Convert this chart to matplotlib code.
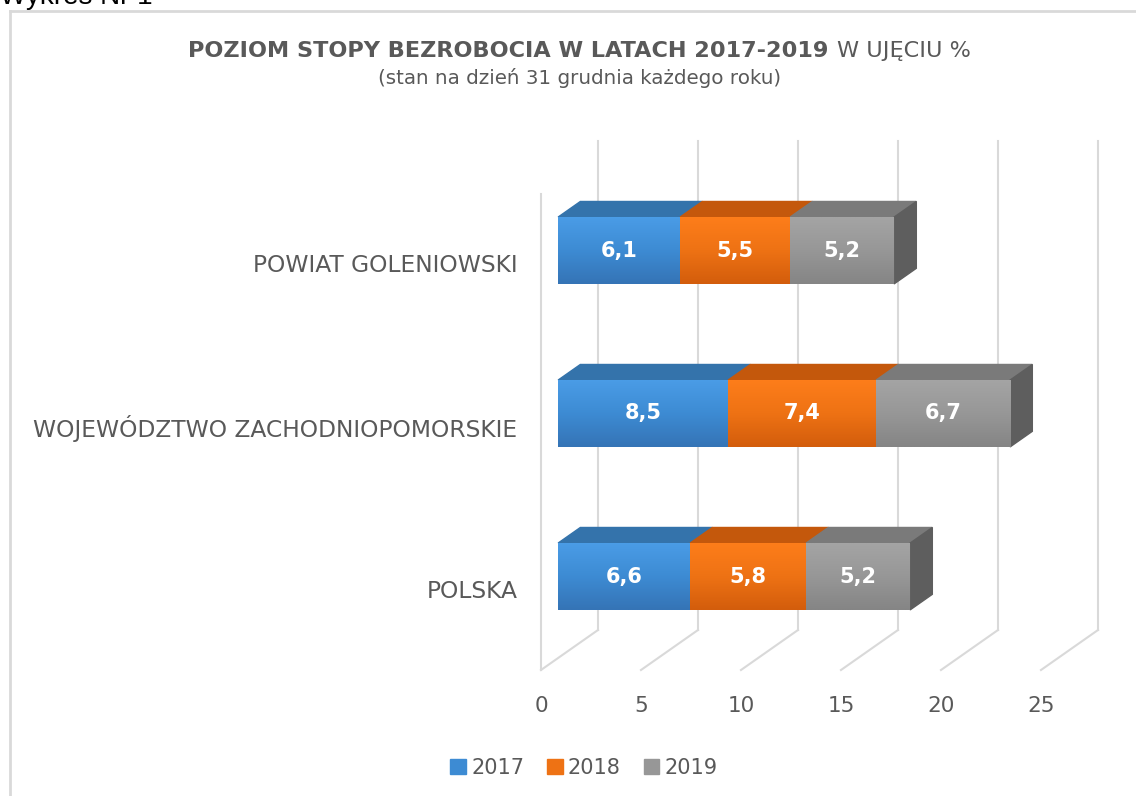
import matplotlib
matplotlib.use("Agg")
import matplotlib.pyplot as plt
import matplotlib.patches as patches
from matplotlib.colors import LinearSegmentedColormap
from matplotlib.lines import Line2D
import numpy as np

# data
categories = ["POLSKA", "WOJEWÓDZTWO ZACHODNIOPOMORSKIE", "POWIAT GOLENIOWSKI"]
years = ["2017", "2018", "2019"]
v2017 = [6.6, 8.5, 6.1]
v2018 = [5.8, 7.4, 5.5]
v2019 = [5.2, 6.7, 5.2]
x_ticks = [0, 5, 10, 15, 20, 25]

front_colors = ["#3d8bd3", "#ee7214", "#979797"]
light_colors = ["#4a9ce6", "#fd7d1a", "#a4a4a4"]
dark_colors = ["#3574b6", "#d35d0c", "#858585"]
top_colors = ["#3473ab", "#c4580c", "#7a7a7a"]
side_color = "#5e5e5e"
grid_color = "#d9d9d9"
text_color = "#595959"

plt.rcParams["font.family"] = ["DejaVu Sans"]

W, H = 1136, 796
fig = plt.figure(figsize=(W / 100, H / 100), dpi=100)

# front plane of the 3d box, in pixels
x0, x1 = 541, 1041
y_top, y_bot = 181, 670
ax = fig.add_axes([x0 / W, 1 - y_bot / H, (x1 - x0) / W, (y_bot - y_top) / H])
ax.patch.set_alpha(0)
for s in ax.spines.values():
    s.set_visible(False)

# oblique depth shift (value units / category units)
DX = 57 / 20
DY = 40 / ((y_bot - y_top) / 3)
f0, f1 = 0.30, 0.69   # front and back of bars, as fraction of depth
bar_h = 0.41

# walls / floor gridlines
for v in x_ticks:
    ax.plot([v, v + DX], [-0.5, -0.5 + DY], color=grid_color, lw=1.5, clip_on=False, zorder=1)
    ax.plot([v + DX, v + DX], [-0.5 + DY, 2.5 + DY], color=grid_color, lw=1.5, clip_on=False, zorder=1)
ax.plot([0, 0], [-0.5, 2.5 - 0.08], color=grid_color, lw=1.5, clip_on=False, zorder=1)

grad = np.linspace(0, 1, 64).reshape(-1, 1)
cmaps = [LinearSegmentedColormap.from_list(f"c{j}", [light_colors[j], front_colors[j], dark_colors[j]])
         for j in range(3)]

series = [v2017, v2018, v2019]
for i in range(len(categories)):
    cum = 0
    yb = i - bar_h / 2
    yt = i + bar_h / 2
    for j, vals in enumerate(series):
        val = vals[i]
        ax.barh(i + f0 * DY, val, left=cum + f0 * DX, height=bar_h,
                color=front_colors[j], zorder=3, clip_on=False)
        # shading of the front face
        ax.imshow(grad, cmap=cmaps[j], aspect="auto", interpolation="bilinear", zorder=3.2,
                  extent=(cum + f0 * DX, cum + val + f0 * DX, yb + f0 * DY, yt + f0 * DY))
        top = [(cum + f0 * DX, yt + f0 * DY), (cum + val + f0 * DX, yt + f0 * DY),
               (cum + val + f1 * DX, yt + f1 * DY), (cum + f1 * DX, yt + f1 * DY)]
        ax.add_patch(patches.Polygon(top, closed=True, color=top_colors[j], zorder=3, clip_on=False))
        ax.text(cum + val / 2 + f0 * DX, i + f0 * DY, f"{val:.1f}".replace(".", ","),
                color="white", fontsize=15, fontweight="bold", ha="center", va="center", zorder=5)
        cum += val
    side = [(cum + f0 * DX, yb + f0 * DY), (cum + f0 * DX, yt + f0 * DY),
            (cum + f1 * DX, yt + f1 * DY), (cum + f1 * DX, yb + f1 * DY)]
    ax.add_patch(patches.Polygon(side, closed=True, color=side_color, zorder=3, clip_on=False))

ax.set_xlim(0, 25)
ax.set_ylim(-0.5, 2.5)
ax.set_xticks(x_ticks)
ax.set_xticklabels([str(t) for t in x_ticks])
ax.set_yticks(range(len(categories)))
ax.set_yticklabels(categories)
ax.tick_params(axis="x", length=0, pad=19, labelsize=15.5, labelcolor=text_color)
ax.tick_params(axis="y", length=0, pad=17, labelsize=16.8, labelcolor=text_color)

# titles
fig.text(828 / W, 1 - 57 / H, "POZIOM STOPY BEZROBOCIA W LATACH 2017-2019",
         fontsize=16.1, fontweight="bold", color=text_color, ha="right", va="baseline")
fig.text(837 / W, 1 - 57 / H, "W UJĘCIU %", fontsize=16.1, color=text_color, ha="left", va="baseline")
fig.text(580 / W, 1 - 78 / H, "(stan na dzień 31 grudnia każdego roku)",
         fontsize=14.3, color=text_color, ha="center", va="center")
fig.text(0, 1 - 4 / H, "Wykres Nr 1", fontsize=20, color="black", ha="left", va="baseline",
         family="Liberation Sans")

# chart border
fig.add_artist(Line2D([10 / W, 10 / W], [0, 1 - 11 / H], color=grid_color, lw=2))
fig.add_artist(Line2D([10 / W, 1], [1 - 11 / H, 1 - 11 / H], color=grid_color, lw=2))

handles = [patches.Patch(color=c, label=y) for c, y in zip(front_colors, years)]
fig.legend(handles=handles, loc="center", bbox_to_anchor=(584 / W, 1 - 768 / H), ncol=3,
           frameon=False, fontsize=15, labelcolor=text_color, handlelength=0.75,
           handleheight=0.75, handletextpad=0.25, columnspacing=1.1)

fig.savefig("out.png", dpi=100)
